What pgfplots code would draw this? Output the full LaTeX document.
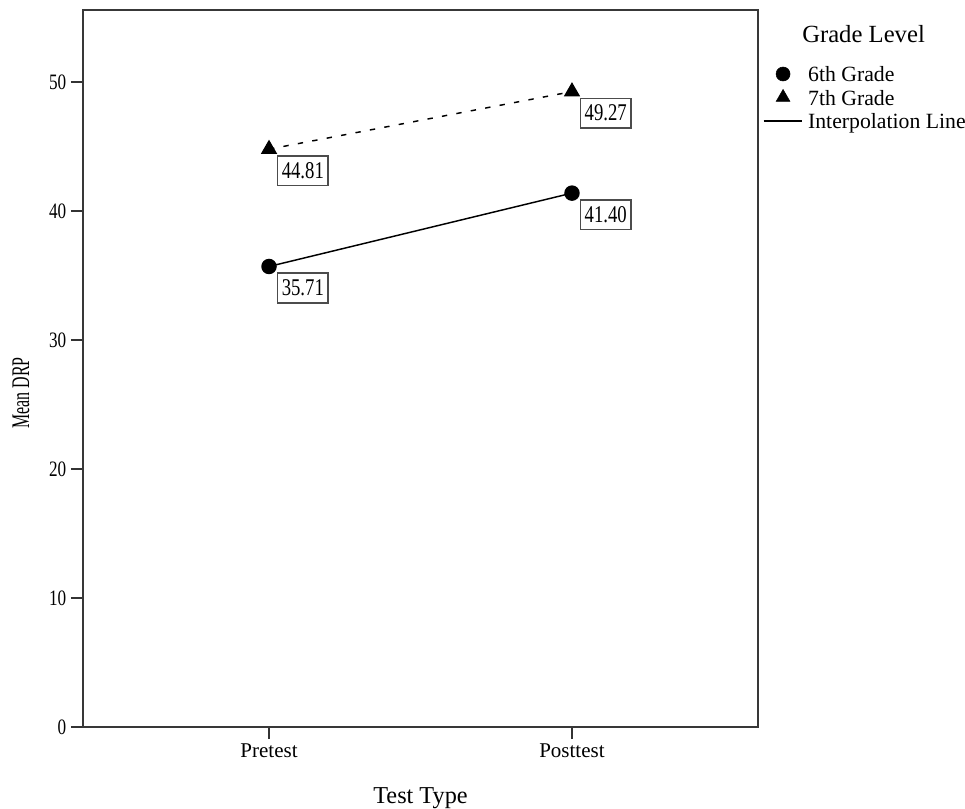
\documentclass[border=0pt]{standalone}
\usepackage{fontspec}
\setmainfont{Liberation Serif}
\newfontfamily\numfont{Liberation Serif}[FakeStretch=0.78]
\newfontfamily\condfont{Liberation Serif}[FakeStretch=0.63]
\usepackage{pgfplots}
\pgfplotsset{compat=1.18}
\usetikzlibrary{calc}
\begin{document}
\begin{tikzpicture}
\begin{axis}[
  name=ax,
  scale only axis,
  width=506.25pt, height=537.75pt,
  xmin=-0.614, xmax=1.614,
  ymin=0, ymax=55.6,
  axis line style={black!78, line width=1.2pt},
  xtick={0,1}, xticklabels={Pretest,Posttest},
  ytick={0,10,20,30,40,50},
  xtick pos=left, ytick pos=left,
  tick align=outside,
  major tick length=9pt,
  every tick/.style={black!80, line width=1.1pt},
  /pgf/number format/assume math mode=true,
  yticklabel style={font={\numfont\fontsize{16.5pt}{19pt}\selectfont}, anchor=east},
  xticklabel style={font={\fontsize{15.75pt}{18pt}\selectfont}},
  xlabel={Test Type},
  xlabel style={font={\fontsize{18.2pt}{21pt}\selectfont}, at={(axis description cs:0.5,0)}, anchor=base, yshift=-57pt},
  ylabel={Mean DRP},
  ylabel style={font={\condfont\fontsize{19pt}{22pt}\selectfont}, at={(axis description cs:-0.0919,0.466)}, anchor=center, rotate=0},
  nodes near coords,
  point meta=explicit symbolic,
  every node near coord/.style={anchor=north west, xshift=6pt, yshift=-4.5pt, draw=black!70, line width=1.1pt, fill=white, inner xsep=3pt, inner ysep=5pt, font={\numfont\fontsize{18pt}{20pt}\selectfont}, text=black},
  legend cell align=left,
  legend style={at={(1,1)}, anchor=north west, xshift=3.75pt, yshift=-39.2pt,
    draw=none, fill=none, inner sep=0pt, outer sep=0pt,
    row sep=0pt, column sep=3.75pt,
    nodes={inner sep=0pt, text height=14.6pt, text depth=3pt},
    font={\fontsize{16.3pt}{19pt}\selectfont}},
  legend image code/.code={\draw[mark repeat=2,mark phase=2,#1] plot coordinates {(0pt,0pt) (14.5pt,0pt) (29pt,0pt)};},
]
\addplot[black, line width=1.1pt, mark=*, mark size=5.25pt, mark options={solid}, forget plot]
  coordinates {(0,35.71) [35.71] (1,41.40) [41.40]};
\addplot[black, line width=1.1pt, dash pattern=on 4pt off 7pt, mark=triangle*, mark size=6pt, mark options={solid}, forget plot]
  coordinates {(0,44.81) [44.81] (1,49.27) [49.27]};
\addlegendimage{black, only marks, mark=*, mark size=5.25pt}
\addlegendentry{6th Grade}
\addlegendimage{black, only marks, mark=triangle*, mark size=6pt}
\addlegendentry{7th Grade}
\addlegendimage{black, line width=1.1pt, no marks}
\addlegendentry{Interpolation Line}
\end{axis}
\node[anchor=base west, font={\fontsize{18.5pt}{21pt}\selectfont}, inner sep=0pt] at ($(ax.north east)+(33pt,-24.75pt)$) {Grade Level};
\pgfresetboundingbox
\path ($(ax.south west)+(-62.25pt,-60.75pt)$) rectangle ($(ax.north east)+(155.25pt,7.5pt)$);
\end{tikzpicture}
\end{document}
